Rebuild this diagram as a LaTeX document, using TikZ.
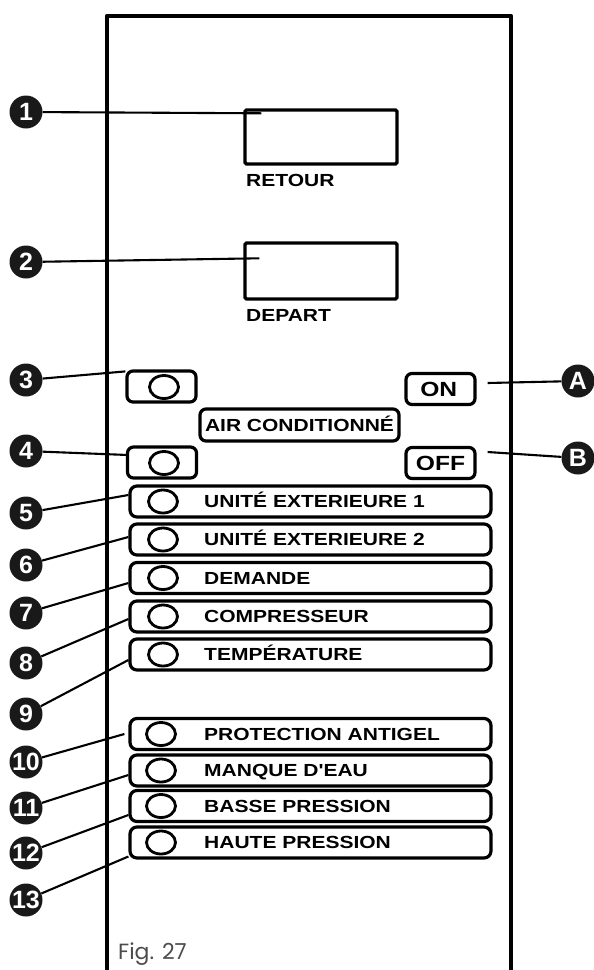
\documentclass[tikz,border=0pt]{standalone}
\usepackage{fontspec}
\usetikzlibrary{positioning,shapes.geometric}
\newfontfamily\panelfont[FakeStretch=1.2]{Liberation Sans}
\newfontfamily\calloutfont{Liberation Sans}
\newfontfamily\figfont{Poppins}
\definecolor{figgray}{gray}{0.3}

\begin{document}
\begin{tikzpicture}[x=1pt, y=-1pt,
    panel/.style={line width=4.2pt, line join=round},
    display/.style={draw, line width=3.4pt, rounded corners=1.5pt, minimum width=152pt, minimum height=54pt, inner sep=0pt},
    paneltext/.style={font=\panelfont\bfseries\fontsize{17.5}{17.5}\selectfont, inner sep=0pt, text height=12.5pt, text depth=0pt},
    button/.style={paneltext, draw, line width=3.2pt, rounded corners=6pt, minimum width=69pt, minimum height=31pt},
    switchtext/.style={font=\panelfont\bfseries\fontsize{20.5}{20.5}\selectfont, text height=14.5pt},
    rowbox/.style={draw, line width=3.2pt, rounded corners=7pt, minimum width=361pt, minimum height=31pt, inner sep=0pt},
    led/.style={draw, ellipse, line width=2.8pt, minimum width=29pt, minimum height=23pt, inner sep=0pt},
    callout/.style={circle, fill=black!90, text=white, minimum size=33pt, inner sep=0pt, font=\calloutfont\bfseries\fontsize{25}{25}\selectfont},
    leader/.style={line width=2.1pt}]

    \useasboundingbox (0,0) rectangle (594,970);

% panel outline

    \draw[panel] (107,975) -- (107,16) -- (511,16) -- (511,975);

% displays

    \node[display] (d1) at (321,137) {};
    \node[paneltext, anchor=west] (retour) at (246,180) {RETOUR};
    \node[display, minimum height=56pt] (d2) at (321,271) {};
    \node[paneltext, anchor=west] (depart) at (246,315) {DEPART};

% air conditioning buttons

    \node[button] (b3) at (161.5,386.5) {};
    \node[led] (l3) at (164,387) {};
    \node[button, switchtext] (on) at (440.5,389) {ON\,};
    \node[button, minimum width=199pt, minimum height=32pt] (air) at (299.5,425) {AIR CONDITIONNÉ};
    \node[button] (b4) at (162,462.5) {};
    \node[led] (l4) at (164,463) {};
    \node[button, switchtext] (off) at (440.5,463) {OFF};

% status rows

    \node[rowbox] (r5) at (310.5,501.5) {};
    \node[led] (l5) at (163,501.5) {};
    \node[paneltext, anchor=west] (t5) at (204,501.5) {UNITÉ EXTERIEURE 1};

    \node[rowbox] (r6) at (310.5,539.5) {};
    \node[led] (l6) at (163,539.5) {};
    \node[paneltext, anchor=west] (t6) at (204,539.5) {UNITÉ EXTERIEURE 2};

    \node[rowbox] (r7) at (310.5,578) {};
    \node[led] (l7) at (163,578) {};
    \node[paneltext, anchor=west] (t7) at (204,578) {DEMANDE};

    \node[rowbox] (r8) at (310.5,616.5) {};
    \node[led] (l8) at (163,616.5) {};
    \node[paneltext, anchor=west] (t8) at (204,616.5) {COMPRESSEUR};

    \node[rowbox] (r9) at (310.5,654.5) {};
    \node[led] (l9) at (163,654.5) {};
    \node[paneltext, anchor=west] (t9) at (204,654.5) {TEMPÉRATURE};

% alarm rows

    \node[rowbox] (r10) at (310.5,734) {};
    \node[led] (l10) at (161,734) {};
    \node[paneltext, anchor=west] (t10) at (204,734) {PROTECTION ANTIGEL};

    \node[rowbox] (r11) at (310.5,770.5) {};
    \node[led] (l11) at (161,770.5) {};
    \node[paneltext, anchor=west] (t11) at (204,770.5) {MANQUE D'EAU};

    \node[rowbox] (r12) at (310.5,806) {};
    \node[led] (l12) at (161,806) {};
    \node[paneltext, anchor=west] (t12) at (204,806) {BASSE PRESSION};

    \node[rowbox] (r13) at (310.5,842.5) {};
    \node[led] (l13) at (161,842.5) {};
    \node[paneltext, anchor=west] (t13) at (204,842.5) {HAUTE PRESSION};

% callouts

    \node[callout] (c1) at (26,112) {1};
    \node[callout] (c2) at (26,262) {2};
    \node[callout] (c3) at (26,380) {3};
    \node[callout] (c4) at (26,451) {4};
    \node[callout] (c5) at (26,513) {5};
    \node[callout] (c6) at (26,565) {6};
    \node[callout] (c7) at (26,613) {7};
    \node[callout] (c8) at (26,663) {8};
    \node[callout] (c9) at (26,714) {9};
    \node[callout] (c10) at (26,762) {10};
    \node[callout] (c11) at (26,808) {11};
    \node[callout] (c12) at (26,853) {12};
    \node[callout] (c13) at (26,900) {13};
    \node[callout] (cA) at (578,381) {A};
    \node[callout] (cB) at (578,458) {B};

    \draw[leader] (c1) -- ([xshift=18pt,yshift=-5pt]d1.north west);
    \draw[leader] (c2) -- ([xshift=16pt,yshift=-17pt]d2.north west);
    \draw[leader] (c3) -- ([yshift=-2pt]b3.north west);
    \draw[leader] (c4) -- ([xshift=2pt,yshift=7.5pt]b4.west);
    \draw[leader] (c5) -- ([yshift=6.5pt]r5.west);
    \draw[leader] (c6) -- ([yshift=2.5pt]r6.west);
    \draw[leader] (c7) -- ([yshift=-5pt]r7.west);
    \draw[leader] (c8) -- ([yshift=-2.5pt]r8.west);
    \draw[leader] (c9) -- ([yshift=-5.5pt]r9.west);
    \draw[leader] (c10) -- ([xshift=-4pt]r10.west);
    \draw[leader] (c11) -- ([yshift=-4.5pt]r11.west);
    \draw[leader] (c12) -- ([yshift=-9pt]r12.west);
    \draw[leader] (c13) -- ([yshift=-14pt]r13.west);
    \draw[leader] ([xshift=11pt,yshift=6pt]on.east) -- (cA);
    \draw[leader] ([xshift=11pt,yshift=11pt]off.east) -- (cB);

    \node[font=\figfont\fontsize{22}{22}\selectfont, text=figgray, anchor=base west, inner sep=0pt] (fig) at (118,959) {Fig. 27};

\end{tikzpicture}
\end{document}
